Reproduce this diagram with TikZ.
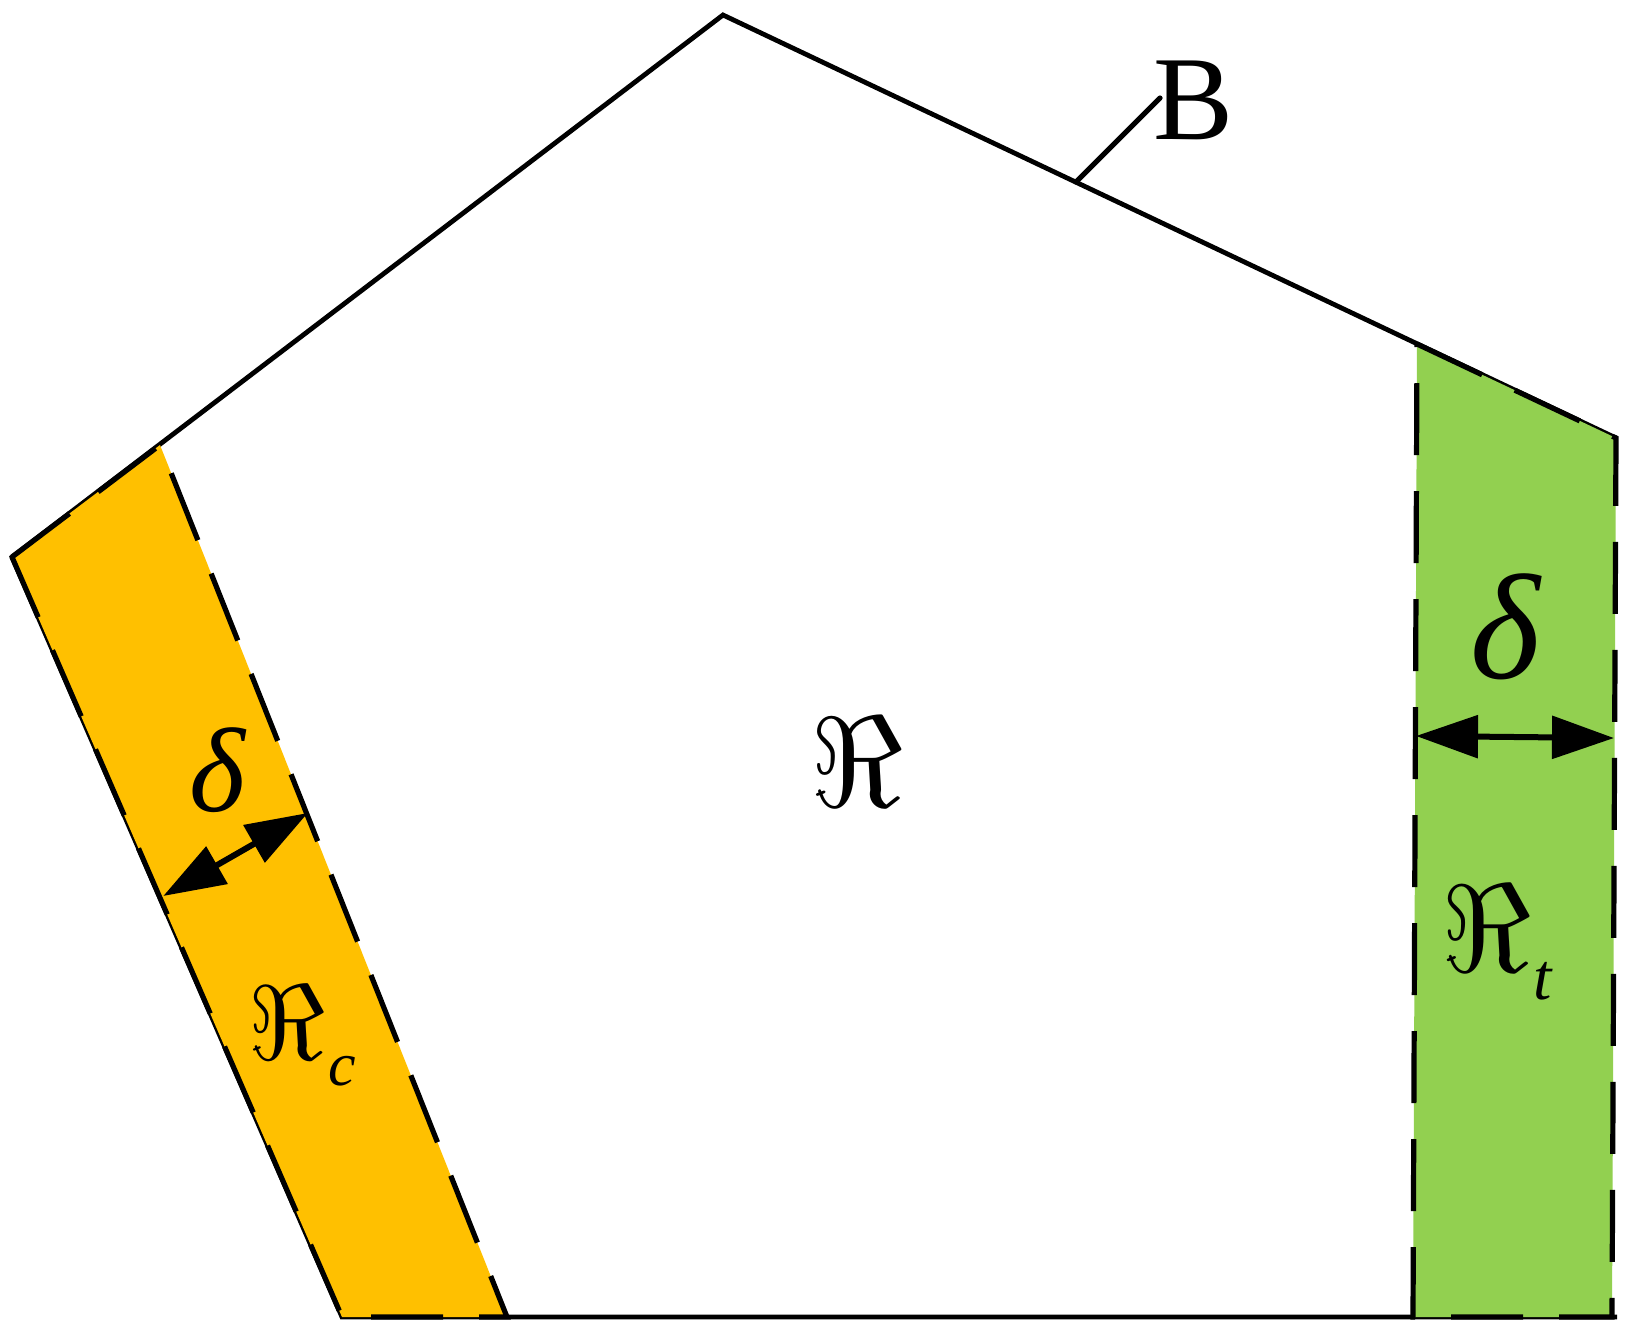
\documentclass[tikz,border=0pt]{standalone}
\usepackage{fontspec}
\setmainfont{Liberation Serif}
\usepackage{graphicx}
\usetikzlibrary{arrows.meta}
\definecolor{bandorange}{HTML}{FFC000}
\definecolor{bandgreen}{HTML}{92D050}
\tikzset{
  edge/.style={line width=2.4pt, line join=miter},
  band/.style={line width=2.6pt, dash pattern=on 36pt off 18pt},
  dimarrow/.style={line width=3pt, {Triangle[length=31pt,width=21pt]}-{Triangle[length=31pt,width=21pt]}, shorten <=-1pt, shorten >=-1pt},
  lbl/.style={inner sep=0pt, outer sep=0pt},
}
\begin{document}
\begin{tikzpicture}[x=0.5pt,y=-0.5pt]
\useasboundingbox (0,0) rectangle (1639,1334);
% pentagon boundary
\coordinate (vA) at (723,15);
\coordinate (vB) at (1616,438);
\coordinate (vC) at (1617,1317);
\coordinate (vD) at (342,1317);
\coordinate (vE) at (12,557);
\draw[edge] (vC) -- (vD) -- (vE) -- (vA) -- (vB);
% orange band
\coordinate (o1) at (12,557);
\coordinate (o2) at (160,445);
\coordinate (o3) at (507,1317);
\coordinate (o4) at (342,1317);
\fill[bandorange] (o1) -- (o2) -- (o3) -- (o4) -- cycle;
\draw[band] (o1) -- (o2) -- (o3) -- (o4) -- cycle;
% green band
\coordinate (g1) at (1417,344);
\coordinate (g2) at (1616,438);
\coordinate (g3) at (1612,1317);
\coordinate (g4) at (1413,1317);
\fill[bandgreen] (g1) -- (g2) -- (g3) -- (g4) -- cycle;
\draw[band] (g1) -- (g2) -- (g3) -- (g4) -- cycle;
% B label and leader
\node[lbl] (Blab) at (1194,100) {\fontsize{60}{70}\selectfont B};
\coordinate (bedge) at (1076,182);
\coordinate (bend) at (1160,98);
\draw[line width=2.6pt, line cap=round] (bedge) -- (bend);
% dimension arrows
\coordinate (al1) at (165,895);
\coordinate (al2) at (306,814);
\draw[dimarrow] (al1) -- (al2);
\coordinate (ar1) at (1418,736);
\coordinate (ar2) at (1612,738);
\draw[dimarrow] (ar1) -- (ar2);
% labels
\node[lbl] (dl) at (217,770) {\fontsize{60}{70}\selectfont\itshape δ};
\node[lbl] (dr) at (1505,627) {\fontsize{75}{85}\selectfont\itshape δ};
\node[lbl] (R) at (857,762) {\scalebox{6.4}{$\Re$}};
\node[lbl] (Rt) at (1486,928) {\scalebox{6.2}{$\Re$}};
\node[lbl] (t) at (1543,981) {\fontsize{33}{40}\selectfont\itshape t};
\node[lbl] (Rc) at (287,1023) {\scalebox{5.3}{$\Re$}};
\node[lbl] (c) at (342,1071) {\fontsize{31}{38}\selectfont\itshape c};
\end{tikzpicture}
\end{document}
